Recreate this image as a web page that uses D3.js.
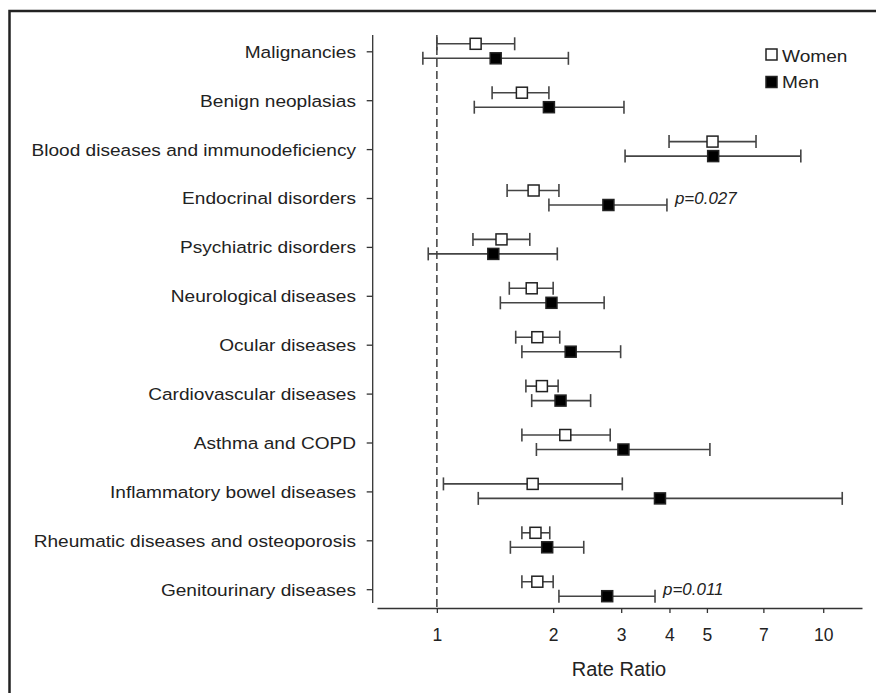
<!DOCTYPE html>
<html>
<head>
<meta charset="utf-8">
<script src="https://cdn.jsdelivr.net/npm/d3@7"></script>
<style>
  body { margin: 0; background: #fff; }
  text { font-family: "Liberation Sans", Arial, sans-serif; fill: #222; }
</style>
</head>
<body>
<div id="chart"></div>
<script>
// rows, top to bottom
const categories = [
    "Malignancies",
    "Benign neoplasias",
    "Blood diseases and immunodeficiency",
    "Endocrinal disorders",
    "Psychiatric disorders",
    "Neurological\u2009diseases",
    "Ocular diseases",
    "Cardiovascular diseases",
    "Asthma and COPD",
    "Inflammatory bowel diseases",
    "Rheumatic diseases and osteoporosis",
    "Genitourinary diseases"
];

// rate ratios with 95% CI
const womenRR = [1.26, 1.66, 5.17, 1.78, 1.47, 1.76, 1.82, 1.87, 2.15, 1.77, 1.80, 1.82];
const womenLo = [1.00, 1.39, 3.99, 1.52, 1.24, 1.54, 1.60, 1.70, 1.66, 1.04, 1.66, 1.66];
const womenHi = [1.59, 1.95, 6.70, 2.07, 1.74, 2.00, 2.08, 2.06, 2.81, 3.02, 1.96, 2.00];
const menRR = [1.42, 1.95, 5.19, 2.78, 1.40, 1.98, 2.22, 2.09, 3.04, 3.78, 1.93, 2.76];
const menLo = [0.92, 1.25, 3.07, 1.95, 0.95, 1.46, 1.66, 1.76, 1.81, 1.28, 1.55, 2.07];
const menHi = [2.19, 3.05, 8.75, 3.94, 2.05, 2.71, 2.99, 2.50, 5.09, 11.2, 2.40, 3.67];

const pRows = ["Endocrinal disorders", "Genitourinary diseases"];
const pTexts = ["p=0.027", "p=0.011"];

const xTicks = [1, 2, 3, 4, 5, 7, 10];
const legendLabels = ["Women", "Men"];

const svg = d3.select("#chart")
    .append("svg")
    .attr("width", 876)
    .attr("height", 693);

// outer frame (runs off right and bottom edge)
svg.append("rect")
    .attr("x", 9.5).attr("y", 11)
    .attr("width", 900).attr("height", 720)
    .attr("fill", "none")
    .attr("stroke", "#222")
    .attr("stroke-width", 2.5);

const x = d3.scaleLog().domain([0.7, 12.6]).range([377, 862]);
const y = d3.scalePoint().domain(categories).range([51.3, 589.2]);

const womenRows = categories.map((c, i) => ({cat: c, rr: womenRR[i], lo: womenLo[i], hi: womenHi[i], dy: -7.5}));
const menRows = categories.map((c, i) => ({cat: c, rr: menRR[i], lo: menLo[i], hi: menHi[i], dy: 7}));

// x axis
const xAxis = svg.append("g")
    .attr("transform", "translate(0,608)")
    .call(d3.axisBottom(x).tickValues(xTicks).tickFormat(d3.format("d"))
        .tickSize(5).tickSizeOuter(0).tickPadding(16));
xAxis.select(".domain").attr("stroke", "#333").attr("stroke-width", 1.3);
xAxis.selectAll(".tick line").attr("stroke", "#333").attr("stroke-width", 1.3);
xAxis.selectAll(".tick text")
    .style("font-size", "17.5px")
    .attr("fill", "#222");

svg.append("text")
    .attr("x", 619).attr("y", 676)
    .attr("text-anchor", "middle")
    .style("font-size", "20px")
    .text("Rate Ratio");

// y axis
const yAxis = svg.append("g")
    .attr("transform", "translate(372.7,0)")
    .call(d3.axisLeft(y).tickSize(6).tickSizeOuter(0));
yAxis.select(".domain").attr("d", "M0,35V603").attr("stroke", "#333").attr("stroke-width", 1.3);
yAxis.selectAll(".tick line").attr("stroke", "#333").attr("stroke-width", 1.3);
yAxis.selectAll(".tick text")
    .attr("x", 0)
    .attr("dy", "0.36em")
    .attr("transform", "translate(-16.7,0) scale(1.15,1)")
    .style("font-size", "16.6px")
    .attr("fill", "#222");

// reference line at 1
svg.append("line")
    .attr("x1", x(1)).attr("x2", x(1))
    .attr("y1", 35).attr("y2", 608)
    .attr("stroke", "#555")
    .attr("stroke-width", 1.7)
    .attr("stroke-dasharray", "8,4");

function drawSeries(rows, fill, cls) {
    const g = svg.append("g").attr("class", cls);
    const row = g.selectAll("g")
        .data(rows)
        .join("g")
        .attr("transform", d => `translate(0,${y(d.cat) + d.dy})`);
    row.append("line")
        .attr("x1", d => x(d.lo)).attr("x2", d => x(d.hi))
        .attr("stroke", "#444").attr("stroke-width", 1.6);
    row.append("line")
        .attr("x1", d => x(d.lo)).attr("x2", d => x(d.lo))
        .attr("y1", -6.5).attr("y2", 6.5)
        .attr("stroke", "#444").attr("stroke-width", 1.6);
    row.append("line")
        .attr("x1", d => x(d.hi)).attr("x2", d => x(d.hi))
        .attr("y1", -6.5).attr("y2", 6.5)
        .attr("stroke", "#444").attr("stroke-width", 1.6);
    row.append("rect")
        .attr("x", d => x(d.rr) - 5.5).attr("y", -5.5)
        .attr("width", 11).attr("height", 11)
        .attr("fill", fill)
        .attr("stroke", "#222").attr("stroke-width", 1.5);
}
drawSeries(womenRows, "#fff", "women");
drawSeries(menRows, "#000", "men");

// p-values next to the men's CI
pRows.forEach((c, k) => {
    const i = categories.indexOf(c);
    svg.append("text")
        .attr("transform", `translate(${x(menHi[i]) + 8},${y(c) + 6}) scale(1.06,1)`)
        .style("font-size", "16px")
        .style("font-style", "italic")
        .text(pTexts[k]);
});

// legend
const legend = svg.append("g");
legendLabels.forEach((lab, k) => {
    legend.append("rect")
        .attr("x", 766).attr("y", 49 + k * 27.5)
        .attr("width", 11).attr("height", 11)
        .attr("fill", k === 0 ? "#fff" : "#000")
        .attr("stroke", "#222").attr("stroke-width", 1.5);
    legend.append("text")
        .attr("transform", `translate(782,${61.5 + k * 26.5}) scale(1.15,1)`)
        .style("font-size", "16.6px")
        .text(lab);
});
</script>
</body>
</html>
